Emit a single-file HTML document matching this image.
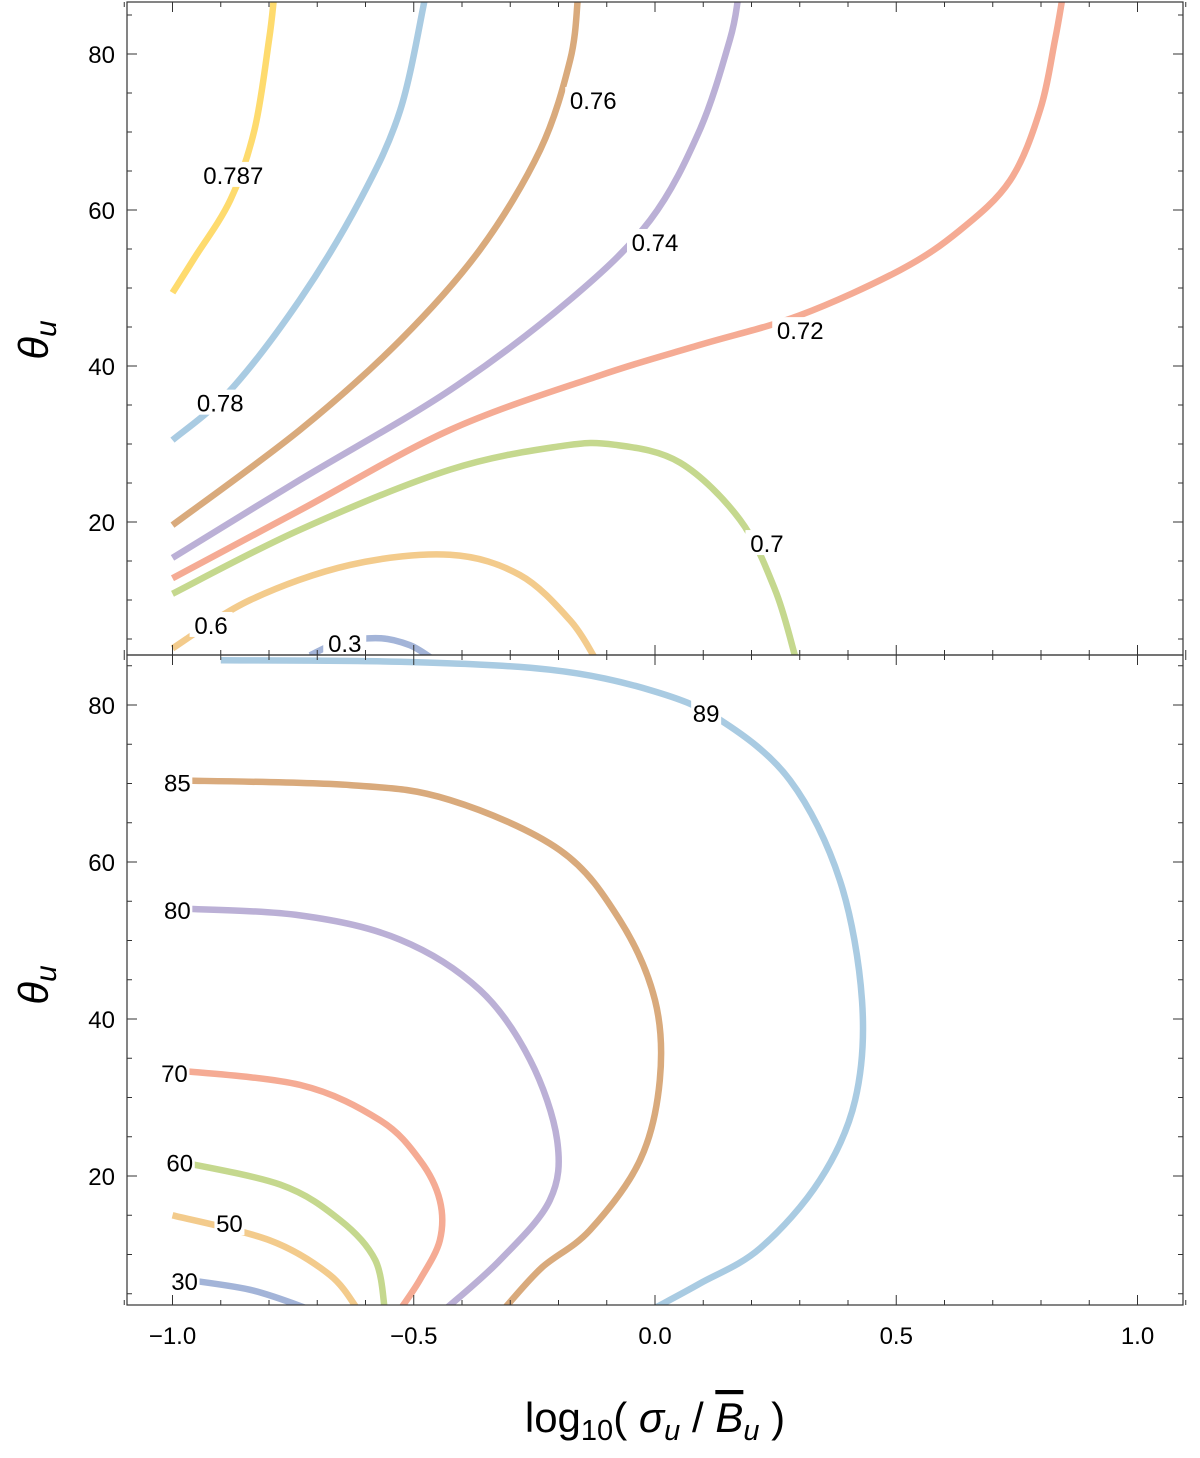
<!DOCTYPE html>
<html><head><meta charset="utf-8"><style>
body{margin:0;background:#fff}
svg{display:block;font-family:"Liberation Sans",sans-serif}
</style></head><body>
<svg id="chart" width="1200" height="1458" viewBox="0 0 1200 1458" xmlns="http://www.w3.org/2000/svg">
<defs>
<clipPath id="clipTop"><rect x="127" y="2" width="1056" height="653"/></clipPath>
<clipPath id="clipBot"><rect x="127" y="655" width="1056" height="650"/></clipPath>
</defs>
<g id="gTop" clip-path="url(#clipTop)"></g>
<g id="gBot" clip-path="url(#clipBot)"></g>
<g id="gLabels"></g>
<g id="gAxes"></g>
<text x="48" y="340" font-size="42" font-style="italic" text-anchor="middle" transform="rotate(-90 48 340)">θ<tspan font-size="30" dy="8">u</tspan></text>
<text x="48" y="985" font-size="42" font-style="italic" text-anchor="middle" transform="rotate(-90 48 985)">θ<tspan font-size="30" dy="8">u</tspan></text>
<text x="655" y="1432" font-size="42" text-anchor="middle">log<tspan font-size="29" dy="8">10</tspan><tspan dy="-8">( </tspan><tspan font-style="italic">σ</tspan><tspan font-style="italic" font-size="29" dy="8">u</tspan><tspan dy="-8"> / </tspan><tspan font-style="italic" text-decoration="overline">B</tspan><tspan font-style="italic" font-size="29" dy="8">u</tspan><tspan dy="-8"> )</tspan></text>
</svg>
<script>
const xTicks=[-1.0,-0.5,0.0,0.5,1.0];
const yTicks=[20,40,60,80];
// top panel contours: [x, theta]
const topLevels=["0.787","0.78","0.76","0.74","0.72","0.7","0.6","0.3"];
const topColors=["#fedb6e","#a9cbe2","#d9aa7c","#bbb0d6","#f5ab94","#c5d88e","#f3cb8c","#a3b4d8"];
const top787=[[-1.0,49.4],[-0.955,53.8],[-0.88,61.3],[-0.83,70.3],[-0.80,81.8],[-0.79,87]];
const top78=[[-1.0,30.5],[-0.88,36.9],[-0.736,48.5],[-0.611,61.3],[-0.528,72.8],[-0.477,87]];
const top76=[[-1.0,19.6],[-0.736,31.8],[-0.528,43.3],[-0.363,54.9],[-0.238,67.7],[-0.176,79.2],[-0.16,87]];
const top74=[[-1.0,15.4],[-0.736,25.4],[-0.425,36.9],[-0.176,48.5],[-0.01,58.7],[0.093,70.3],[0.155,81.8],[0.172,87]];
const top72=[[-1.0,12.8],[-0.736,21.5],[-0.425,31.8],[-0.114,38.8],[0.093,42.7],[0.30,46.5],[0.508,52.3],[0.632,57.4],[0.736,63.8],[0.798,72.8],[0.829,81.8],[0.844,87]];
const top70=[[-1.0,10.8],[-0.736,19.0],[-0.425,26.7],[-0.197,29.7],[-0.083,29.9],[0.052,27.6],[0.176,20.3],[0.249,11.3],[0.29,2.9]];
const top60=[[-1.0,3.8],[-0.839,10.0],[-0.632,14.5],[-0.425,15.8],[-0.28,13.2],[-0.176,7.4],[-0.124,2.5]];
const top30=[[-0.715,2.9],[-0.653,4.6],[-0.57,5.1],[-0.508,4.2],[-0.462,2.5]];
const topSeries=[top787,top78,top76,top74,top72,top70,top60,top30];
const topLabelPos=[[-0.874,64.5],[-0.901,35.3],[-0.128,74.1],[0.0,55.9],[0.301,44.6],[0.232,17.3],[-0.92,6.8],[-0.643,4.5]];
// bottom panel contours
const botLevels=["89","85","80","70","60","50","30"];
const botColors=["#a9cbe2","#d9aa7c","#bbb0d6","#f5ab94","#c5d88e","#f3cb8c","#a3b4d8"];
const bot89=[[-0.9,85.7],[-0.528,85.5],[-0.218,84.5],[-0.01,81.9],[0.135,78.1],[0.28,70.4],[0.383,57.7],[0.429,42.4],[0.415,29.7],[0.342,19.5],[0.218,10.8],[0.093,6.3],[0.0,3.2]];
const bot85=[[-1.0,70.4],[-0.632,69.8],[-0.425,67.9],[-0.197,61.5],[-0.073,52.6],[0.0,42.4],[0.01,32.2],[-0.031,22.0],[-0.135,13.1],[-0.235,8.3],[-0.311,3.2]];
const bot80=[[-1.0,54.1],[-0.736,53.2],[-0.528,50.1],[-0.363,43.7],[-0.259,34.8],[-0.203,24.6],[-0.218,16.9],[-0.321,9.3],[-0.435,3.0]];
const bot70=[[-1.0,33.5],[-0.736,31.6],[-0.57,27.1],[-0.487,22.0],[-0.446,16.9],[-0.446,11.8],[-0.487,6.8],[-0.528,3.0]];
const bot60=[[-1.0,22.0],[-0.777,18.9],[-0.653,14.4],[-0.58,9.3],[-0.56,3.0]];
const bot50=[[-1.0,15.0],[-0.798,11.8],[-0.674,7.4],[-0.616,3.0]];
const bot30=[[-1.0,7.0],[-0.839,5.5],[-0.715,3.0]];
const botSeries=[bot89,bot85,bot80,bot70,bot60,bot50,bot30];
const botLabelPos=[[0.106,79.0],[-0.99,70.1],[-0.99,53.9],[-0.996,33.1],[-0.985,21.7],[-0.882,14.0],[-0.975,6.6]];

const NS="http://www.w3.org/2000/svg";
const X0=127,X1=1183;
function sx(v){return 655+v*482.5;}
function syT(t){return 678-t*7.8;}
function syB(t){return 1333-t*7.85;}
function pathD(pts){
  let d="M"+pts[0][0].toFixed(1)+","+pts[0][1].toFixed(1);
  for(let i=0;i<pts.length-1;i++){
    const p0=pts[Math.max(0,i-1)],p1=pts[i],p2=pts[i+1],p3=pts[Math.min(pts.length-1,i+2)];
    const c1=[p1[0]+(p2[0]-p0[0])/6,p1[1]+(p2[1]-p0[1])/6];
    const c2=[p2[0]-(p3[0]-p1[0])/6,p2[1]-(p3[1]-p1[1])/6];
    d+=" C"+c1[0].toFixed(1)+","+c1[1].toFixed(1)+" "+c2[0].toFixed(1)+","+c2[1].toFixed(1)+" "+p2[0].toFixed(1)+","+p2[1].toFixed(1);
  }
  return d;
}
function drawSet(g,series,colors,levels,sy,prefix){
  series.forEach((s,i)=>{
    const p=document.createElementNS(NS,"path");
    p.setAttribute("d",pathD(s.map(q=>[sx(q[0]),sy(q[1])])));
    p.setAttribute("fill","none");p.setAttribute("stroke",colors[i]);
    p.setAttribute("stroke-width","6.5");p.setAttribute("stroke-linecap","butt");p.setAttribute("stroke-linejoin","round");
    
    
    g.appendChild(p);
  });
}
drawSet(document.getElementById("gTop"),topSeries,topColors,topLevels,syT,"top");
drawSet(document.getElementById("gBot"),botSeries,botColors,botLevels,syB,"bottom");

const gL=document.getElementById("gLabels");
function addLabel(txt,x,y,prefix){
  const w=txt.length*13+4;
  const r=document.createElementNS(NS,"rect");
  r.setAttribute("x",x-w/2);r.setAttribute("y",y-13);r.setAttribute("width",w);r.setAttribute("height",25);r.setAttribute("fill","#fff");
  
  
  gL.appendChild(r);
  const t=document.createElementNS(NS,"text");
  t.setAttribute("x",x);t.setAttribute("y",y+9);t.setAttribute("font-size","24");t.setAttribute("text-anchor","middle");
  t.textContent=txt;
  
  
  gL.appendChild(t);
}
topLevels.forEach((l,i)=>addLabel(l,sx(topLabelPos[i][0]),syT(topLabelPos[i][1]),'top-contour-'+l));
botLevels.forEach((l,i)=>addLabel(l,sx(botLabelPos[i][0]),syB(botLabelPos[i][1]),'bottom-contour-'+l));

const gA=document.getElementById("gAxes");
function line(x1,y1,x2,y2,name,w){
  const l=document.createElementNS(NS,"line");
  l.setAttribute("x1",x1);l.setAttribute("y1",y1);l.setAttribute("x2",x2);l.setAttribute("y2",y2);
  l.setAttribute("stroke","#333");l.setAttribute("stroke-width",w||1);
  
  
  gA.appendChild(l);
}
function text(x,y,s,anchor,name){
  const t=document.createElementNS(NS,"text");
  t.setAttribute("x",x);t.setAttribute("y",y);t.setAttribute("font-size","24");t.setAttribute("text-anchor",anchor);
  t.textContent=s;
  
  
  gA.appendChild(t);
}
const panels=[{top:2,bot:655,sy:syT,name:"top"},{top:655,bot:1305,sy:syB,name:"bottom"}];
panels.forEach(P=>{
  const fr=document.createElementNS(NS,"rect");
  fr.setAttribute("x",X0);fr.setAttribute("y",P.top);fr.setAttribute("width",X1-X0);fr.setAttribute("height",P.bot-P.top);
  fr.setAttribute("fill","none");fr.setAttribute("stroke","#333");fr.setAttribute("stroke-width","1.2");
  
  
  gA.appendChild(fr);
  for(let k=-11;k<=11;k++){
    const v=k/10,x=sx(v),major=(k%5===0),len=major?10:5;
    line(x,P.bot,x,P.bot-len,P.name+'-x-tick',1);
    line(x,P.top,x,P.top+len,P.name+'-x-tick-top',1);
  }
  for(let t=5;t<=85;t+=5){
    const y=P.sy(t),major=(t%20===0),len=major?10:5;
    if(y<P.top||y>P.bot)continue;
    line(X0,y,X0+len,y,P.name+'-y-tick',1);
    line(X1,y,X1-len,y,P.name+'-y-tick-right',1);
  }
  yTicks.forEach(t=>text(X0-12,P.sy(t)+9,String(t),"end",P.name+'-y-tick-label-'+t));
});
xTicks.forEach(v=>text(sx(v),1344,(v<0?"\u2212":"")+Math.abs(v).toFixed(1),"middle",'x-tick-label-'+v));
</script>
</body></html>
